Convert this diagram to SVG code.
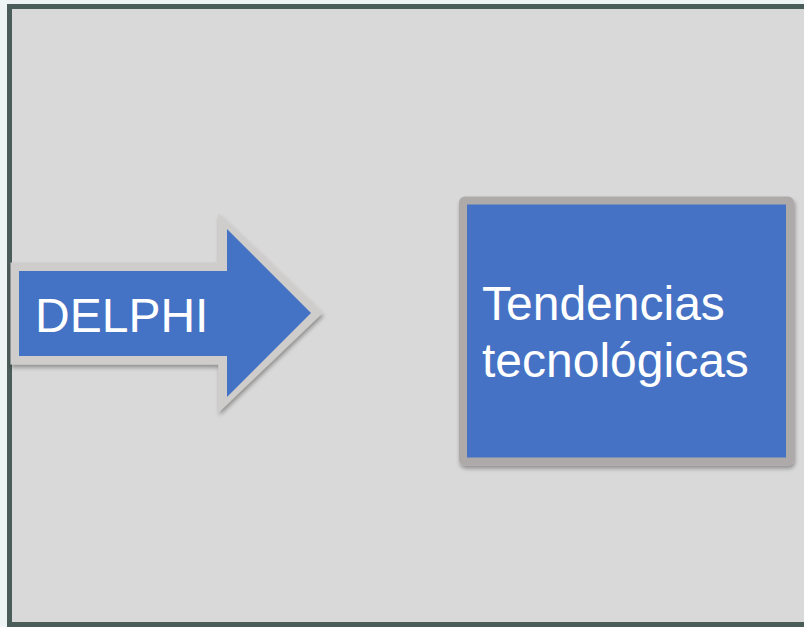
<svg xmlns="http://www.w3.org/2000/svg" width="804" height="627" viewBox="0 0 804 627">
<defs>
<style>
.lbl{font-family:"Liberation Sans",Arial,sans-serif;font-size:48px;fill:#ffffff}
</style>
<filter id="sh" x="-10%" y="-10%" width="130%" height="130%">
<feGaussianBlur in="SourceAlpha" stdDeviation="2"/>
<feOffset dx="1" dy="3"/>
<feComponentTransfer><feFuncA type="linear" slope="0.35"/></feComponentTransfer>
<feMerge><feMergeNode/><feMergeNode in="SourceGraphic"/></feMerge>
</filter>
</defs>
<rect x="0" y="0" width="804" height="627" fill="#eef4f4"/>
<rect x="9.5" y="6.5" width="800" height="618" fill="#d9d9d9" stroke="#4b5d59" stroke-width="5"/>
<g id="delphi">
<polygon points="15,267 223,267 223,224 316,313 223,402 223,360 15,360" fill="#cfcccc" stroke="#cfcccc" stroke-width="9" stroke-linejoin="miter" filter="url(#sh)"/>
<polygon points="19,271 227,271 227,229 311,313 227,397 227,356 19,356" fill="#4472c4"/>
<text class="lbl" x="35" y="332">DELPHI</text>
</g>
<g id="tendencias">
<rect x="463" y="200.5" width="327" height="261" rx="2" fill="#4472c4" stroke="#aeaaaa" stroke-width="8" filter="url(#sh)"/>
<text class="lbl" x="482" y="320">Tendencias</text>
<text class="lbl" x="482" y="377">tecnológicas</text>
</g>
<g id="connectors"/>
</svg>
